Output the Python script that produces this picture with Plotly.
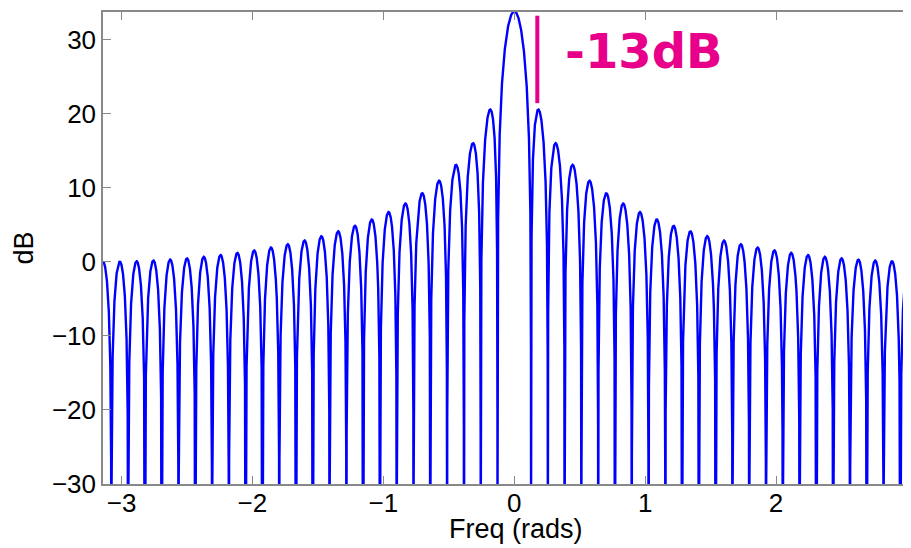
import numpy as np
import plotly.graph_objects as go

# Dirichlet kernel of length N (peak 20*log10(N) ~ 33.8 dB, first sidelobe -13 dB)
N = 49
freq = np.linspace(-np.pi, np.pi, 40001)
num = np.sin(N * freq / 2.0)
den = np.sin(freq / 2.0)
with np.errstate(divide="ignore", invalid="ignore"):
    mag = np.where(np.abs(den) < 1e-12, float(N), num / den)
dB = 20 * np.log10(np.maximum(np.abs(mag), 1e-6))

x_ticks = [-3, -2, -1, 0, 1, 2, 3]
y_ticks = [-30, -20, -10, 0, 10, 20, 30]
x_title = "Freq (rads)"
y_title = "dB"
annot_text = "-13dB"

fig = go.Figure()
fig.add_trace(go.Scatter(x=freq, y=dB, mode="lines",
                         line=dict(color="#0000FF", width=2.4),
                         hoverinfo="skip", showlegend=False))

axis_font = dict(family="Liberation Sans, Arial, sans-serif", size=26, color="black")
title_font = dict(family="Liberation Sans, Arial, sans-serif", size=27, color="black")

fig.update_layout(
    width=903, height=540,
    margin=dict(l=95, r=0, t=4, b=64),
    paper_bgcolor="white", plot_bgcolor="white",
    xaxis=dict(range=[-np.pi, (911 - 514) / 131.0], tickvals=x_ticks,
               ticktext=["\u22123", "\u22122", "\u22121", "0", "1", "2", "3"],
               ticks="inside", ticklen=8, tickcolor="#888888",
               showline=True, linecolor="#888888", linewidth=1.5, mirror="ticks",
               showgrid=False, zeroline=False, tickfont=axis_font, automargin=False,
               ticklabelstandoff=-5),
    yaxis=dict(range=[-30, 33.7], tickvals=y_ticks,
               ticktext=["\u221230", "\u221220", "\u221210", "0", "10", "20", "30"],
               ticks="inside", ticklen=8, tickcolor="#888888",
               showline=True, linecolor="#888888", linewidth=1.5, mirror=False,
               showgrid=False, zeroline=False, tickfont=axis_font, automargin=False,
               title=dict(text=y_title, font=title_font, standoff=10)),
)

# x-axis title placed just under the tick labels, as in the reference
fig.add_annotation(x=(516 - 103) / 808.0, y=-(512 - 484) / 472.0, xref="paper", yref="paper",
                   text=x_title, showarrow=False, xanchor="center", yanchor="top",
                   font=title_font)

# magenta -13 dB marker
fig.add_shape(type="line", xref="x", yref="y",
              x0=0.176, x1=0.176, y0=21.4, y1=33.2,
              line=dict(color="#E8008A", width=4))
fig.add_annotation(x=0.37, y=28.4, xref="x", yref="y", text="<b>" + annot_text + "</b>",
                   showarrow=False, xanchor="left", yanchor="middle",
                   font=dict(family="DejaVu Sans, sans-serif", size=48, color="#E8008A"))

fig.write_html("out.html")
